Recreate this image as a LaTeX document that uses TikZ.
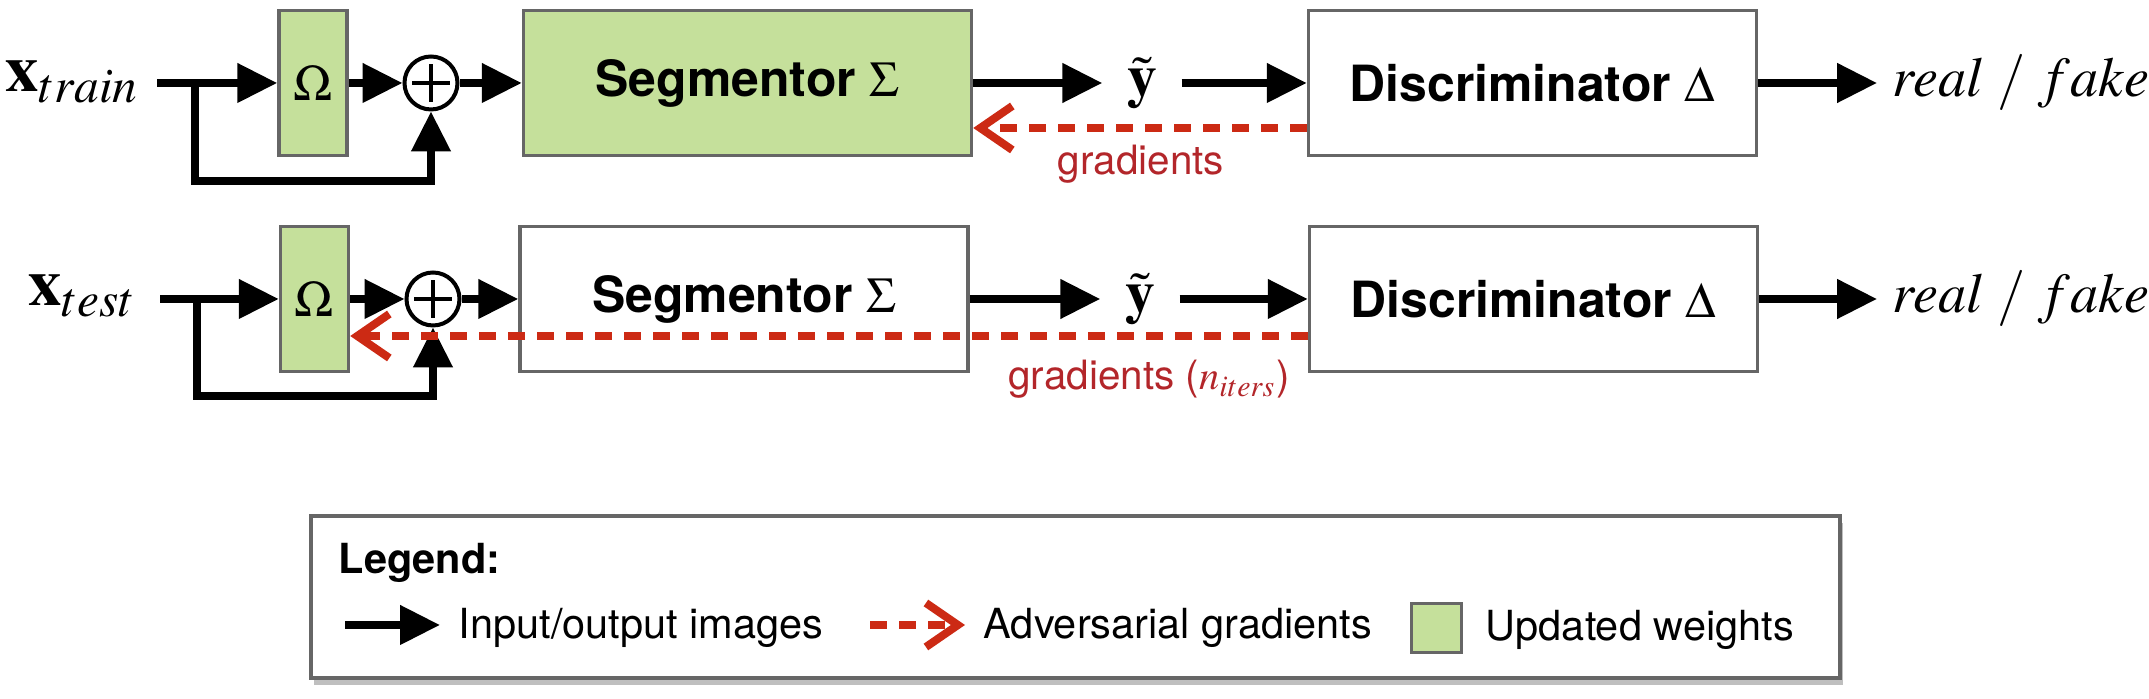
\RequirePackage{fix-cm}
\documentclass[tikz,border=0pt]{standalone}
\usepackage{amsmath}
\usepackage{amssymb}
\usepackage{mathptmx}
\usepackage{fontspec}
\setsansfont{TeX Gyre Heros}
\usepackage{xcolor}
\usepackage{tikz}
\usetikzlibrary{arrows.meta,positioning,calc,shadows}

\definecolor{wgreen}{HTML}{C5E09B}
\definecolor{boxgray}{HTML}{666666}
\definecolor{gradred}{HTML}{CC2A14}
\definecolor{labred}{HTML}{B3262A}

\begin{document}
\begin{tikzpicture}[
        block/.style={draw=boxgray, line width=0.035cm, minimum width=4.48cm, minimum height=1.45cm,
            font=\sffamily\bfseries\fontsize{14.2}{17}\selectfont},
        wbox/.style={draw=boxgray, fill=wgreen, line width=0.035cm, minimum width=0.68cm,
            minimum height=1.45cm, inner sep=0pt, font=\fontsize{14.5}{17}\selectfont},
        sumnode/.style={circle, draw, line width=0.04cm, minimum size=0.53cm, inner sep=0pt},
        flow/.style={line width=0.077cm, -{Triangle[length=0.40cm,width=0.38cm]}},
        grad/.style={line width=0.08cm, draw=gradred, dash pattern=on 0.17cm off 0.12cm,
            -{Straight Barb[length=0.32cm,width=0.44cm]}},
        gradlabel/.style={text=labred, inner sep=0pt, font=\sffamily\fontsize{11.5}{14}\selectfont},
        legtext/.style={anchor=base west, inner sep=0pt, font=\sffamily\fontsize{11.8}{14}\selectfont},
    ]
        \useasboundingbox (0,0) rectangle (21.49,6.99);

        % Training row
        \node[anchor=base east, inner sep=0pt, font=\fontsize{19}{22}\selectfont] (xtr) at (1.40,6.07) {$\mathbf{x}_{train}$};
        \coordinate (in1) at (1.57,6.16);
        \coordinate (split1) at (1.95,6.16);
        \coordinate (loop1) at (1.95,5.18);
        \node[wbox] (om1) at (3.13,6.16) {$\Omega$};
        \node[sumnode] (sum1) at (4.31,6.16) {};
        \node[block, fill=wgreen] (seg1) at (7.475,6.16) {Segmentor $\Sigma$};
        \node[minimum width=0.78cm, font=\fontsize{17}{20}\selectfont] (y1) at (11.42,6.16) {$\tilde{\mathbf{y}}$};
        \node[block] (dis1) at (15.325,6.16) {Discriminator $\Delta$};
        \node[inner sep=0.15cm, font=\fontsize{16}{19}\selectfont] (out1) at (20.21,6.16) {$real\;/\;fake$};

        % Test row
        \node[anchor=base east, inner sep=0pt, font=\fontsize{19}{22}\selectfont] (xte) at (1.37,3.93) {$\mathbf{x}_{test}$};
        \coordinate (in2) at (1.60,4.00);
        \coordinate (split2) at (1.97,4.00);
        \coordinate (loop2) at (1.97,3.03);
        \node[wbox] (om2) at (3.145,4.00) {$\Omega$};
        \node[sumnode] (sum2) at (4.33,4.00) {};
        \node[block] (seg2) at (7.44,4.00) {Segmentor $\Sigma$};
        \node[minimum width=0.78cm, font=\fontsize{17}{20}\selectfont] (y2) at (11.40,4.00) {$\tilde{\mathbf{y}}$};
        \node[block] (dis2) at (15.335,4.00) {Discriminator $\Delta$};
        \node[inner sep=0.15cm, font=\fontsize{16}{19}\selectfont] (out2) at (20.21,4.00) {$real\;/\;fake$};

        % Plus signs
        \foreach \s in {sum1,sum2}
            \draw[line width=0.035cm] (\s.center) ++(-0.19,0) -- ++(0.38,0)
                (\s.center) ++(0,-0.19) -- ++(0,0.38);

        % Forward images
        \draw[flow] (in1) -- (om1);
        \draw[flow] (om1) -- (sum1);
        \draw[flow] (sum1) -- (seg1);
        \draw[flow] (seg1) -- (y1);
        \draw[flow] (y1) -- (dis1);
        \draw[flow] (dis1) -- (out1);
        \draw[flow] (split1) -- (loop1) -| (sum1);

        \draw[flow] (in2) -- (om2);
        \draw[flow] (om2) -- (sum2);
        \draw[flow] (sum2) -- (seg2);
        \draw[flow] (seg2) -- (y2);
        \draw[flow] (y2) -- (dis2);
        \draw[flow] (dis2) -- (out2);
        \draw[flow] (split2) -- (loop2) -| (sum2);

        % Adversarial gradients
        \draw[grad] ([yshift=-0.45cm]dis1.west) -- ([yshift=-0.45cm]seg1.east);
        \node[gradlabel, anchor=base] (g1) at (11.41,5.24) {gradients};
        \draw[grad] ([yshift=-0.37cm]dis2.west) -- ([yshift=-0.37cm]om2.east);
        \node[gradlabel, anchor=base] (g2) at (11.49,3.09) {gradients ($n_{iters}$)};

        % Legend
        \node[draw=boxgray, line width=0.04cm, fill=white, minimum width=15.29cm, minimum height=1.62cm,
            drop shadow={shadow xshift=0.03cm, shadow yshift=-0.07cm, fill=black, opacity=0.25}] (legend) at (10.755,1.02) {};
        \node[legtext, font=\sffamily\bfseries\fontsize{11.8}{14}\selectfont] (legtitle) at (3.38,1.25) {Legend:};
        \coordinate (la1) at (3.45,0.74);
        \coordinate (lb1) at (4.40,0.74);
        \draw[flow] (la1) -- (lb1);
        \node[legtext] (lt1) at (4.58,0.60) {Input/output images};
        \coordinate (la2) at (8.70,0.74);
        \coordinate (lb2) at (9.65,0.74);
        \draw[grad] (la2) -- (lb2);
        \node[legtext] (lt2) at (9.83,0.60) {Adversarial gradients};
        \node[wbox, minimum width=0.50cm, minimum height=0.49cm] (lsq) at (14.365,0.71) {};
        \node[legtext] (lt3) at (14.85,0.58) {Updated weights};

    \end{tikzpicture}
\end{document}
